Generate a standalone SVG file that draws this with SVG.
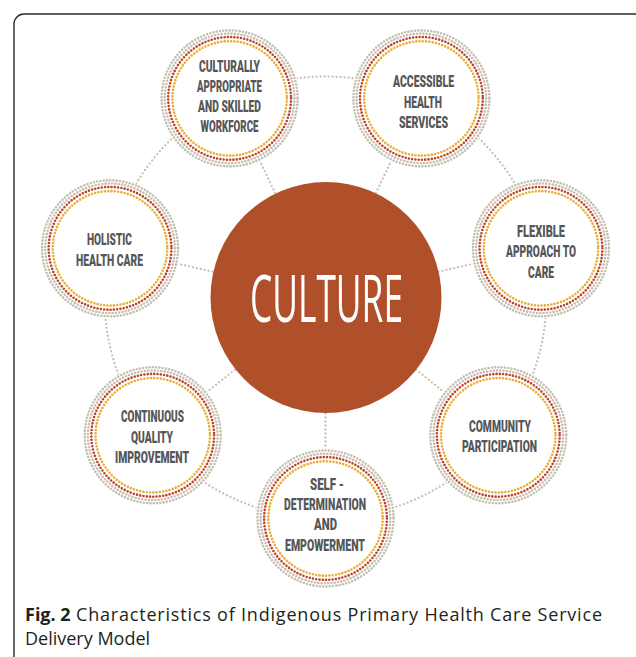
<svg xmlns="http://www.w3.org/2000/svg" width="636" height="657" viewBox="0 0 636 657">
  <style>
    .link { fill: none; stroke: #c6bfb0; stroke-width: 2.3; stroke-dasharray: 0 4; stroke-linecap: round; }
    .dots { fill: none; stroke-width: 2.6; stroke-linecap: round; stroke-dasharray: 0 3.3; }
    .gray { stroke: #c6beaf; }
    .red { stroke: #c0412a; }
    .yellow { stroke: #e8ae30; }
    .lbl { font-family: Roboto, "Liberation Sans", "DejaVu Sans", sans-serif; font-weight: 900; font-size: 16.8px; fill: #555658; text-anchor: middle; }
    .core { font-family: "Open Sans", "Noto Sans", sans-serif; font-weight: 400; font-size: 66px; fill: #ffffff; text-anchor: middle; }
    .cap { font-family: "Open Sans", "Noto Sans", "DejaVu Sans", sans-serif; font-size: 18px; fill: #231f20; }
  </style>
  <defs>
    <!-- dotted badge used by every characteristic -->
    <g id="ring">
      <circle r="70" fill="#ffffff"/>
      <circle r="68" class="dots gray"/>
      <circle r="64.8" class="dots gray"/>
      <circle r="61.4" class="dots red"/>
      <circle r="57.2" class="dots yellow"/>
    </g>
  </defs>

  <rect width="636" height="657" fill="#ffffff"/>

  <!-- figure frame -->
  <path d="M14,657 V24 A10,10 0 0 1 24,14 H636" fill="none" stroke="#2b2b2b" stroke-width="1.4"/>

  <!-- connectors: spokes from the hub and the outer ring between neighbours -->
  <g id="connectors">
    <line class="link" x1="325.5" y1="297.5" x2="325.5" y2="518.5"/>
    <line class="link" x1="325.5" y1="297.5" x2="498.28" y2="435.29"/>
    <line class="link" x1="325.5" y1="297.5" x2="540.96" y2="248.32"/>
    <line class="link" x1="325.5" y1="297.5" x2="421.39" y2="98.39"/>
    <line class="link" x1="325.5" y1="297.5" x2="229.61" y2="98.39"/>
    <line class="link" x1="325.5" y1="297.5" x2="110.04" y2="248.32"/>
    <line class="link" x1="325.5" y1="297.5" x2="152.72" y2="435.29"/>
    <path class="link" d="M325.5,518.5 A221,221 0 0 0 498.28,435.29"/>
    <path class="link" d="M498.28,435.29 A221,221 0 0 0 540.96,248.32"/>
    <path class="link" d="M540.96,248.32 A221,221 0 0 0 421.39,98.39"/>
    <path class="link" d="M421.39,98.39 A221,221 0 0 0 229.61,98.39"/>
    <path class="link" d="M229.61,98.39 A221,221 0 0 0 110.04,248.32"/>
    <path class="link" d="M110.04,248.32 A221,221 0 0 0 152.72,435.29"/>
    <path class="link" d="M152.72,435.29 A221,221 0 0 0 325.5,518.5"/>
  </g>

  <!-- hub -->
  <g id="culture">
    <circle cx="326" cy="297.5" r="115.5" fill="#b0502b"/>
    <text class="core" x="326.5" y="322" textLength="153" lengthAdjust="spacingAndGlyphs">CULTURE</text>
  </g>

  <g id="workforce">
    <use href="#ring" x="229.61" y="98.39"/>
    <text class="lbl" x="229.5" y="72" textLength="61" lengthAdjust="spacingAndGlyphs">CULTURALLY</text>
    <text class="lbl" x="229.5" y="92" textLength="65" lengthAdjust="spacingAndGlyphs">APPROPRIATE</text>
    <text class="lbl" x="229.5" y="112" textLength="63" lengthAdjust="spacingAndGlyphs">AND SKILLED</text>
    <text class="lbl" x="229.5" y="131.5" textLength="58" lengthAdjust="spacingAndGlyphs">WORKFORCE</text>
  </g>

  <g id="accessible">
    <use href="#ring" x="421.39" y="98.39"/>
    <text class="lbl" x="423.5" y="87" textLength="61" lengthAdjust="spacingAndGlyphs">ACCESSIBLE</text>
    <text class="lbl" x="423" y="108" textLength="38" lengthAdjust="spacingAndGlyphs">HEALTH</text>
    <text class="lbl" x="423.5" y="128" textLength="49" lengthAdjust="spacingAndGlyphs">SERVICES</text>
  </g>

  <g id="flexible">
    <use href="#ring" x="540.96" y="248.32"/>
    <text class="lbl" x="541" y="236.5" textLength="48" lengthAdjust="spacingAndGlyphs">FLEXIBLE</text>
    <text class="lbl" x="541" y="257" textLength="70" lengthAdjust="spacingAndGlyphs">APPROACH TO</text>
    <text class="lbl" x="541" y="277.5" textLength="26" lengthAdjust="spacingAndGlyphs">CARE</text>
  </g>

  <g id="community">
    <use href="#ring" x="498.28" y="435.29"/>
    <text class="lbl" x="500" y="432" textLength="62" lengthAdjust="spacingAndGlyphs">COMMUNITY</text>
    <text class="lbl" x="499.5" y="452" textLength="75" lengthAdjust="spacingAndGlyphs">PARTICIPATION</text>
  </g>

  <g id="self-determination">
    <use href="#ring" x="325.5" y="518.5"/>
    <text class="lbl" x="327" y="490" textLength="34" lengthAdjust="spacingAndGlyphs">SELF -</text>
    <text class="lbl" x="325" y="510" textLength="82" lengthAdjust="spacingAndGlyphs">DETERMINATION</text>
    <text class="lbl" x="325.5" y="530" textLength="23" lengthAdjust="spacingAndGlyphs">AND</text>
    <text class="lbl" x="325" y="551" textLength="80" lengthAdjust="spacingAndGlyphs">EMPOWERMENT</text>
  </g>

  <g id="quality">
    <use href="#ring" x="152.72" y="435.29"/>
    <text class="lbl" x="152.5" y="422" textLength="63" lengthAdjust="spacingAndGlyphs">CONTINUOUS</text>
    <text class="lbl" x="152" y="443" textLength="42" lengthAdjust="spacingAndGlyphs">QUALITY</text>
    <text class="lbl" x="152" y="463" textLength="74" lengthAdjust="spacingAndGlyphs">IMPROVEMENT</text>
  </g>

  <g id="holistic">
    <use href="#ring" x="110.04" y="248.32"/>
    <text class="lbl" x="109.5" y="245" textLength="45" lengthAdjust="spacingAndGlyphs">HOLISTIC</text>
    <text class="lbl" x="109.5" y="266" textLength="67" lengthAdjust="spacingAndGlyphs">HEALTH CARE</text>
  </g>

  <!-- caption -->
  <g id="caption">
    <text class="cap" x="25" y="621" font-weight="700">Fig. 2</text>
    <text class="cap" x="76" y="621" textLength="526" lengthAdjust="spacing">Characteristics of Indigenous Primary Health Care Service</text>
    <text class="cap" x="25" y="645">Delivery Model</text>
  </g>
</svg>
